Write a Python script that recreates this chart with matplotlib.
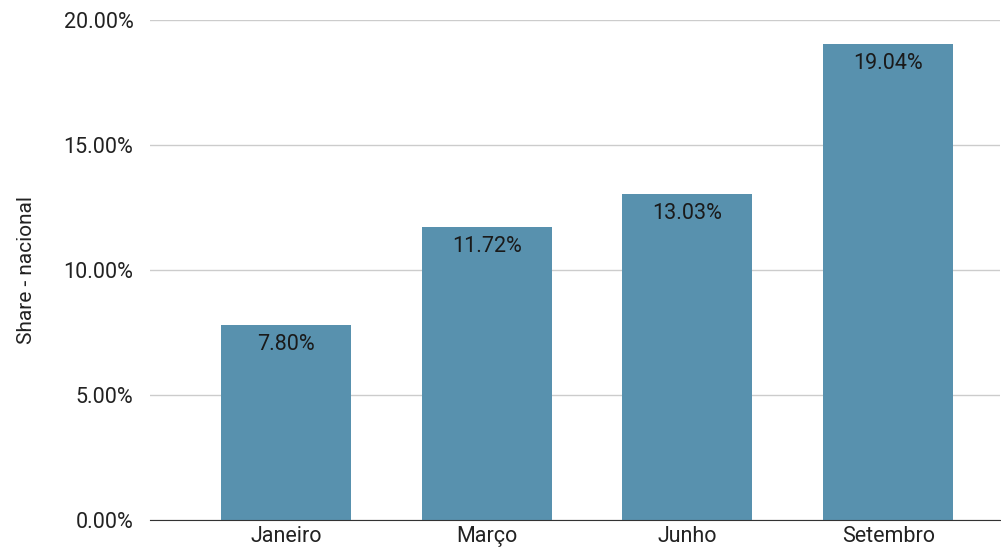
import matplotlib
matplotlib.use("Agg")
import matplotlib.pyplot as plt
from matplotlib.ticker import FuncFormatter
import numpy as np

matplotlib.rcParams.update({"font.family": ["Roboto", "DejaVu Sans"], "font.size": 15.5})

months = ["Janeiro", "Março", "Junho", "Setembro"]
share = [7.80, 11.72, 13.03, 19.04]
yticks = [0, 5, 10, 15, 20]

W, H = 1001, 550
fig = plt.figure(figsize=(W / 100, H / 100), dpi=100)
ax = fig.add_axes([150 / W, 30 / H, 850 / W, 500 / H])

x = np.arange(len(months))
bars = ax.bar(x, share, width=0.647, color="#5891AE", zorder=2)
for b, v in zip(bars, share):
    ax.text(b.get_x() + b.get_width() / 2, v - 0.35, f"{v:.2f}%", ha="center", va="top",
            fontsize=15.5, color="#1a1a1a", zorder=3)

ax.set_xlim(-0.677, 3.557)
ax.set_ylim(0, 20)
ax.set_yticks(yticks)
ax.yaxis.set_major_formatter(FuncFormatter(lambda v, p: f"{v:.2f}%"))
ax.set_xticks(x)
ax.set_xticklabels(months)
ax.grid(axis="y", color="#cccccc", linewidth=1, zorder=0)
ax.tick_params(axis="both", length=0, labelsize=15.5, colors="#222222")
ax.tick_params(axis="x", pad=4)
ax.tick_params(axis="y", pad=12)
for s in ["top", "right", "left"]:
    ax.spines[s].set_visible(False)
ax.spines["bottom"].set_color("#333333")
ax.set_ylabel("Share - nacional", fontsize=15, color="#222222", labelpad=20)

fig.savefig("out.png", dpi=100)
